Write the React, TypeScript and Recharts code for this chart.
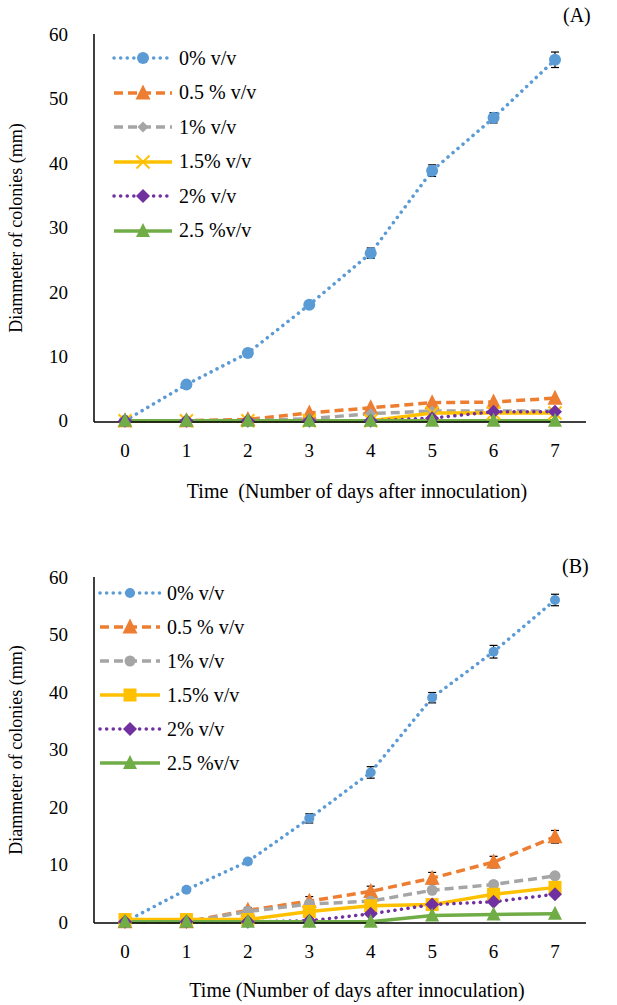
import React from "react";
import { LineChart, Line, XAxis, YAxis, ErrorBar } from "recharts";

const DAYS = ["0", "1", "2", "3", "4", "5", "6", "7"];
const Y_TICKS = [0, 10, 20, 30, 40, 50, 60];

// panel (A)
const A_P0 = [0, 5.6, 10.5, 18, 26, 38.8, 47, 56];
const A_P05 = [0, 0, 0.2, 1.2, 2, 2.8, 2.9, 3.5];
const A_P1 = [0, 0, 0, 0.3, 1.1, 1.5, 1.5, 1.5];
const A_P15 = [0, 0, 0, 0, 0, 1.2, 1.2, 1.2];
const A_P2 = [0, 0, 0, 0, 0, 0.4, 1.4, 1.4];
const A_P25 = [0, 0, 0, 0, 0, 0, 0, 0];
const A_ERR0 = [0.2, 0.3, 0.4, 0.5, 0.8, 0.9, 0.8, 1.2];
const A_ERR05 = [0, 0, 0, 0, 0, 0, 0, 0];

// panel (B)
const B_P0 = [0, 5.6, 10.5, 18, 26, 39, 47, 56];
const B_P05 = [0, 0, 2, 3.6, 5.3, 7.6, 10.4, 14.8];
const B_P1 = [0, 0, 1.8, 3.1, 3.6, 5.5, 6.5, 8];
const B_P15 = [0.4, 0.4, 0.4, 1.8, 2.8, 3, 4.8, 6];
const B_P2 = [0, 0, 0, 0.2, 1.4, 3, 3.5, 4.8];
const B_P25 = [0, 0, 0, 0, 0, 1.1, 1.3, 1.4];
const B_ERR0 = [0.2, 0.3, 0.4, 0.8, 1, 0.9, 1.1, 1];
const B_ERR05 = [0, 0, 0.5, 0.8, 0.9, 1, 1, 1.1];

const NAMES = ["0% v/v", "0.5 % v/v", "1% v/v", "1.5% v/v", "2% v/v", "2.5 %v/v"];
const FONT = "'Liberation Serif', 'Times New Roman', serif";

type MarkerType = "circle" | "triangle" | "diamond" | "x" | "square";

type SeriesDef = {
  key: string;
  color: string;
  dash?: string;
  cap: "round" | "butt";
  marker: MarkerType;
  size: number;
};

const STYLE_A: SeriesDef[] = [
  { key: "p0", color: "#5B9BD5", dash: "0.1 6.5", cap: "round", marker: "circle", size: 12 },
  { key: "p05", color: "#ED7D31", dash: "9 5", cap: "butt", marker: "triangle", size: 15 },
  { key: "p1", color: "#A5A5A5", dash: "9 5", cap: "butt", marker: "diamond", size: 11 },
  { key: "p15", color: "#FFC000", cap: "butt", marker: "x", size: 13 },
  { key: "p2", color: "#7030A0", dash: "0.1 6.5", cap: "round", marker: "diamond", size: 14 },
  { key: "p25", color: "#70AD47", cap: "butt", marker: "triangle", size: 14 },
];

const STYLE_B: SeriesDef[] = [
  { key: "p0", color: "#5B9BD5", dash: "0.1 6.5", cap: "round", marker: "circle", size: 10 },
  { key: "p05", color: "#ED7D31", dash: "9 5", cap: "butt", marker: "triangle", size: 15 },
  { key: "p1", color: "#A5A5A5", dash: "9 5", cap: "butt", marker: "circle", size: 11 },
  { key: "p15", color: "#FFC000", cap: "butt", marker: "square", size: 13 },
  { key: "p2", color: "#7030A0", dash: "0.1 6.5", cap: "round", marker: "diamond", size: 14 },
  { key: "p25", color: "#70AD47", cap: "butt", marker: "triangle", size: 14 },
];

function buildRows(series: number[][], err0: number[], err05: number[]) {
  return DAYS.map((day, i) => ({
    day,
    p0: series[0][i],
    p05: series[1][i],
    p1: series[2][i],
    p15: series[3][i],
    p2: series[4][i],
    p25: series[5][i],
    e0: err0[i],
    e05: err05[i],
  }));
}

const ROWS_A = buildRows([A_P0, A_P05, A_P1, A_P15, A_P2, A_P25], A_ERR0, A_ERR05);
const ROWS_B = buildRows([B_P0, B_P05, B_P1, B_P15, B_P2, B_P25], B_ERR0, B_ERR05);

function Marker({ type, cx, cy, color, size }: { type: MarkerType; cx: number; cy: number; color: string; size: number }) {
  const h = size / 2;
  if (type === "circle") return <circle cx={cx} cy={cy} r={h} fill={color} />;
  if (type === "square") return <rect x={cx - h} y={cy - h} width={size} height={size} fill={color} />;
  if (type === "diamond")
    return <polygon points={`${cx},${cy - h} ${cx + h},${cy} ${cx},${cy + h} ${cx - h},${cy}`} fill={color} />;
  if (type === "triangle")
    return <polygon points={`${cx},${cy - h - 1} ${cx + h},${cy + h - 1} ${cx - h},${cy + h - 1}`} fill={color} />;
  return (
    <g stroke={color} strokeWidth={2}>
      <line x1={cx - h} y1={cy - h} x2={cx + h} y2={cy + h} />
      <line x1={cx - h} y1={cy + h} x2={cx + h} y2={cy - h} />
    </g>
  );
}

// legend drawn over the plot area, like the original
function LegendBox({ styles, lineLen, rowH, left, top }: { styles: SeriesDef[]; lineLen: number; rowH: number; left: number; top: number }) {
  return (
    <div style={{ position: "absolute", left, top, fontFamily: FONT, fontSize: 20, color: "#000" }}>
      {styles.map((s, i) => (
        <div key={s.key} style={{ display: "flex", alignItems: "center", height: rowH }}>
          <svg width={lineLen} height={20} style={{ overflow: "visible" }}>
            <line
              x1={3}
              y1={10}
              x2={lineLen - 3}
              y2={10}
              stroke={s.color}
              strokeWidth={3.5}
              strokeDasharray={s.dash}
              strokeLinecap={s.cap}
            />
            <Marker type={s.marker} cx={lineLen / 2} cy={10} color={s.color} size={s.size} />
          </svg>
          <span style={{ marginLeft: 4, whiteSpace: "nowrap" }}>{NAMES[i]}</span>
        </div>
      ))}
    </div>
  );
}

function Panel({
  rows,
  styles,
  height,
  top,
  xAxisHeight,
  title,
  titleOffset,
  showErr05,
}: {
  rows: any[];
  styles: SeriesDef[];
  height: number;
  top: number;
  xAxisHeight: number;
  title: string;
  titleOffset: number;
  showErr05: boolean;
}) {
  const tickStyle = { fontFamily: FONT, fontSize: 19, fill: "#000" };
  return (
    <LineChart width={617} height={height} data={rows} margin={{ top, right: 31, bottom: 0, left: 0 }}>
      <XAxis
        dataKey="day"
        padding={{ left: 31, right: 31 }}
        axisLine={{ stroke: "#000", strokeWidth: 1.5 }}
        tickLine={false}
        tickSize={0}
        tickMargin={22}
        tick={tickStyle}
        height={xAxisHeight}
        label={{
          value: title,
          position: "insideBottom",
          offset: titleOffset,
          dx: 17,
          style: { ...tickStyle, fontSize: 20 },
        }}
      />
      <YAxis
        domain={[0, 60]}
        ticks={Y_TICKS}
        width={94}
        axisLine={{ stroke: "#000", strokeWidth: 1.5 }}
        tickLine={false}
        tickSize={0}
        tickMargin={26}
        tick={tickStyle}
        label={{
          value: "Diammeter of colonies (mm)",
          angle: -90,
          position: "insideLeft",
          offset: 16,
          style: { ...tickStyle, fontSize: 18, textAnchor: "middle" },
        }}
      />
      {styles.map((s) => (
        <Line
          key={s.key}
          dataKey={s.key}
          type="linear"
          stroke={s.color}
          strokeWidth={3.5}
          strokeDasharray={s.dash}
          strokeLinecap={s.cap}
          isAnimationActive={false}
          dot={(p: any) =>
            p.cx == null || p.cy == null ? (
              <g key={p.key} />
            ) : (
              <Marker key={p.key} type={s.marker} cx={p.cx} cy={p.cy} color={s.color} size={s.size} />
            )
          }
          activeDot={false}
        >
          {s.key === "p0" && <ErrorBar dataKey="e0" direction="y" width={4} stroke="#000" strokeWidth={1.2} />}
          {s.key === "p05" && showErr05 && (
            <ErrorBar dataKey="e05" direction="y" width={4} stroke="#000" strokeWidth={1.2} />
          )}
        </Line>
      ))}
    </LineChart>
  );
}

export default function App() {
  return (
    <div style={{ position: "absolute", left: 0, top: 0, width: 617, height: 1005, background: "#fff" }}>
      <div style={{ position: "relative", height: 505 }}>
        <Panel
          rows={ROWS_A}
          styles={STYLE_A}
          height={505}
          top={34}
          xAxisHeight={83}
          title={"Time\u00A0 (Number of days after innoculation)"}
          titleOffset={7}
          showErr05={false}
        />
        <LegendBox styles={STYLE_A} lineLen={64} rowH={34.5} left={111} top={41} />
        <div style={{ position: "absolute", left: 563, top: 4, fontFamily: FONT, fontSize: 20 }}>(A)</div>
      </div>
      <div style={{ position: "relative", height: 500 }}>
        <Panel
          rows={ROWS_B}
          styles={STYLE_B}
          height={500}
          top={72}
          xAxisHeight={82}
          title="Time (Number of days after innoculation)"
          titleOffset={8}
          showErr05={true}
        />
        <LegendBox styles={STYLE_B} lineLen={66} rowH={34} left={97} top={71} />
        <div style={{ position: "absolute", left: 562, top: 50, fontFamily: FONT, fontSize: 20 }}>(B)</div>
      </div>
    </div>
  );
}
